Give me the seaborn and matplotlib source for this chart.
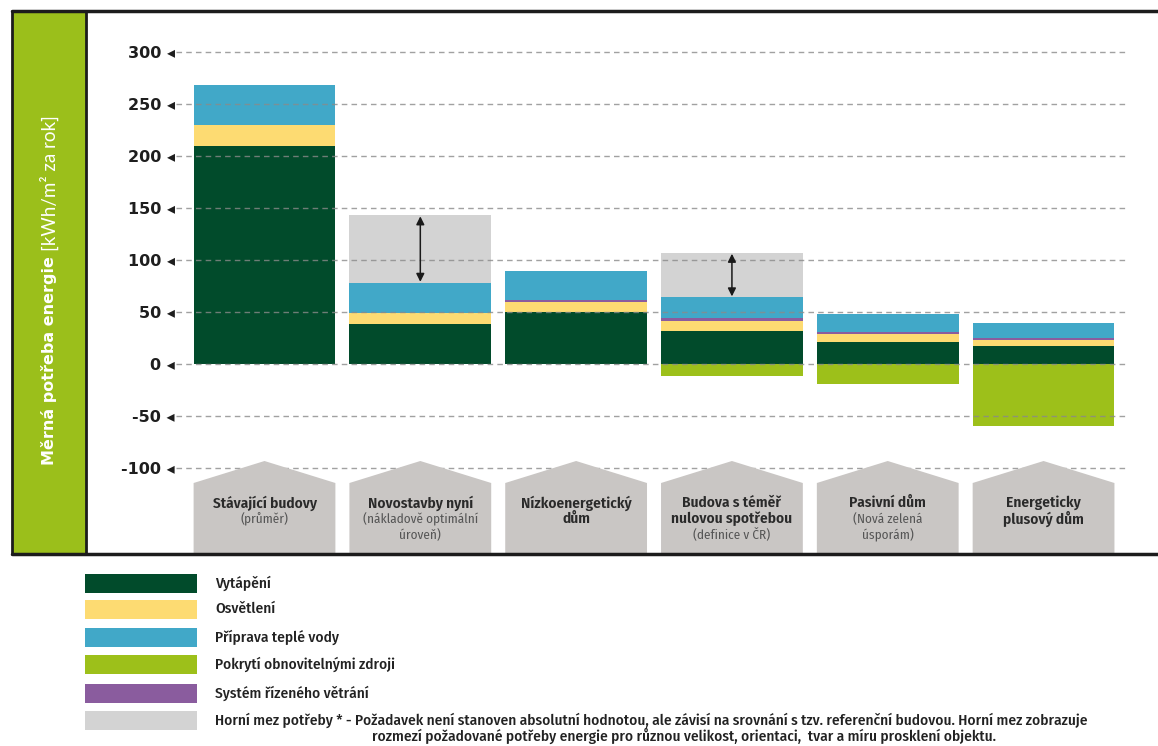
import numpy as np
import pandas as pd
import seaborn as sns
import matplotlib.pyplot as plt
from matplotlib.patches import Rectangle, Polygon
from matplotlib.lines import Line2D

# Data (kWh/m2 per year)
categories = ["Stávající budovy", "Novostavby nyní", "Nízkoenergetický dům",
              "Budova s téměř nulovou spotřebou", "Pasivní dům", "Energeticky plusový dům"]
heating = [210, 38, 50, 32, 21, 17]
lighting = [20, 11, 10, 9, 8, 6]
ventilation = [0, 0, 2, 3, 2, 2]
hot_water = [38, 29, 27, 20, 17, 14]
renewables = [0, 0, 0, -12, -19, -60]
upper_limit = [np.nan, 143, np.nan, 107, np.nan, np.nan]

y_ticks = [300, 250, 200, 150, 100, 50, 0, -50, -100]

house_lines = [
    [("Stávající budovy", True), ("(průměr)", False)],
    [("Novostavby nyní", True), ("(nákladově optimální", False), ("úroveň)", False)],
    [("Nízkoenergetický", True), ("dům", True)],
    [("Budova s téměř", True), ("nulovou spotřebou", True), ("(definice v ČR)", False)],
    [("Pasivní dům", True), ("(Nová zelená", False), ("úsporám)", False)],
    [("Energeticky", True), ("plusový dům", True)],
]

legend_labels = ["Vytápění", "Osvětlení", "Příprava teplé vody",
                 "Pokrytí obnovitelnými zdroji", "Systém řízeného větrání",
                 "Horní mez potřeby * - Požadavek není stanoven absolutní hodnotou, ale závisí "
                 "na srovnání s tzv. referenční budovou. Horní mez zobrazuje"]
legend_note = "rozmezí požadované potřeby energie pro různou velikost, orientaci,  tvar a míru prosklení objektu."

colors = {
    "heating": "#014b2b",
    "lighting": "#fddb72",
    "hot_water": "#41a8c8",
    "renewables": "#9dc01a",
    "ventilation": "#8a5c9e",
    "upper": "#d3d3d3",
}
house_color = "#c9c6c4"
band_color = "#9bbf1b"
narrow = ["Fira Sans Condensed", "DejaVu Sans"]

W, H = 1158, 746


def fx(px):
    return px / W


def fy(py):
    return 1 - py / H


df = pd.DataFrame({
    "category": categories,
    "heating": heating,
    "lighting": lighting,
    "ventilation": ventilation,
    "hot_water": hot_water,
    "renewables": renewables,
    "upper": upper_limit,
})
df["b_lighting"] = df["heating"]
df["b_vent"] = df["b_lighting"] + df["lighting"]
df["b_water"] = df["b_vent"] + df["ventilation"]
df["total"] = df["b_water"] + df["hot_water"]
df["gap"] = (df["upper"] - df["total"]).fillna(0)

sns.set_style("white")
fig = plt.figure(figsize=(W / 100, H / 100), dpi=100)
ax = fig.add_axes([fx(176), fy(553), fx(1128) - fx(176), fy(30) - fy(553)])

bar_w = 0.91
common = dict(data=df, x="category", width=bar_w, errorbar=None, saturation=1,
              linewidth=0, ax=ax, zorder=1)
sns.barplot(y="renewables", color=colors["renewables"], **common)
sns.barplot(y="heating", color=colors["heating"], **common)
sns.barplot(y="lighting", bottom=df["b_lighting"], color=colors["lighting"], **common)
sns.barplot(y="ventilation", bottom=df["b_vent"], color=colors["ventilation"], **common)
sns.barplot(y="hot_water", bottom=df["b_water"], color=colors["hot_water"], **common)
sns.barplot(y="gap", bottom=df["total"], color=colors["upper"], **common)

ymin, ymax = (364 - 553) / 1.04, (364 - 30) / 1.04
ax.set_ylim(ymin, ymax)
ax.set_xlim(-0.568, 5.542)

# double arrows showing the range of the upper limit
for i, row in df.iterrows():
    if not np.isnan(row["upper"]):
        ax.annotate("", xy=(i, row["total"] + 1), xytext=(i, row["upper"] - 1),
                    arrowprops=dict(arrowstyle="<|-|>", color="#1a1a1a", lw=1.1,
                                    mutation_scale=12, shrinkA=0, shrinkB=0),
                    zorder=5)

# dashed grid on top of the bars
ax.set_yticks(y_ticks)
ax.set_yticklabels([f"{t} \u25c2" for t in y_ticks], fontfamily="DejaVu Sans",
                   fontweight="bold", fontsize=11.5, color="#1e1e1e")
ax.tick_params(axis="y", length=0, pad=1)
ax.set_xticks([])
ax.set_xlabel("")
ax.set_ylabel("")
ax.set_axisbelow(False)
ax.yaxis.grid(True, color="#8a8a8a", linestyle=(0, (4, 3)), linewidth=1, alpha=0.8)
ax.xaxis.grid(False)
for s in ax.spines.values():
    s.set_visible(False)

# house shapes with category names
for i, lines in enumerate(house_lines):
    x0, x1 = i - bar_w / 2, i + bar_w / 2
    shoulder = (364 - 483) / 1.04
    peak = (364 - 461) / 1.04
    ax.add_patch(Polygon([(x0, ymin), (x0, shoulder), (i, peak), (x1, shoulder), (x1, ymin)],
                         closed=True, facecolor=house_color, edgecolor="none", zorder=3,
                         clip_on=False))
    for k, (txt, bold) in enumerate(lines):
        ypx = 503 + 16 * k
        ax.text(i, (364 - ypx) / 1.04, txt, ha="center", va="center", zorder=4,
                fontfamily=narrow, fontweight="semibold" if bold else "normal",
                fontsize=11 if bold else 9.5, color="#2a2a2a" if bold else "#555555")

# frame and green label band
fig.add_artist(Rectangle((fx(12), fy(554)), fx(86) - fx(12), fy(12) - fy(554),
                         transform=fig.transFigure, facecolor=band_color, edgecolor="none"))
frame = dict(transform=fig.transFigure, color="#1c1c1c")
fig.add_artist(Line2D([fx(12), fx(1158)], [fy(11), fy(11)], lw=2.5, **frame))
fig.add_artist(Line2D([fx(12), fx(1158)], [fy(554), fy(554)], lw=2.5, **frame))
fig.add_artist(Line2D([fx(12), fx(12)], [fy(11), fy(554)], lw=2, **frame))
fig.add_artist(Line2D([fx(86), fx(86)], [fy(11), fy(554)], lw=2, **frame))

bold_part = fig.text(fx(49), fy(465), "Měrná potřeba energie", rotation=90,
                     rotation_mode="anchor", ha="left", va="center", color="white",
                     fontfamily="DejaVu Sans", fontweight="bold", fontsize=11.5)
fig.canvas.draw()
bb = bold_part.get_window_extent(fig.canvas.get_renderer())
fig.text(fx(49), (bb.y1 + 5) / H, "[kWh/m\u00b2 za rok]", rotation=90,
         rotation_mode="anchor", ha="left", va="center", color="white",
         fontfamily=["Lato", "DejaVu Sans"], fontweight="normal", fontsize=13.5)

# legend below the chart
legend_colors = [colors["heating"], colors["lighting"], colors["hot_water"],
                 colors["renewables"], colors["ventilation"], colors["upper"]]
legend_y = [583, 609, 637, 664.5, 693, 720]
for lab, col, ypx in zip(legend_labels, legend_colors, legend_y):
    fig.add_artist(Rectangle((fx(85), fy(ypx + 9.5)), fx(197) - fx(85), 19 / H,
                             transform=fig.transFigure, facecolor=col, edgecolor="none"))
    fig.text(fx(215), fy(ypx), lab, ha="left", va="center", fontfamily=narrow,
             fontweight="medium", fontsize=11, color="#222222")
fig.text(fx(372), fy(736), legend_note, ha="left", va="center", fontfamily=narrow,
         fontweight="medium", fontsize=11, color="#222222")

fig.savefig("out.png", dpi=100, facecolor="white")
